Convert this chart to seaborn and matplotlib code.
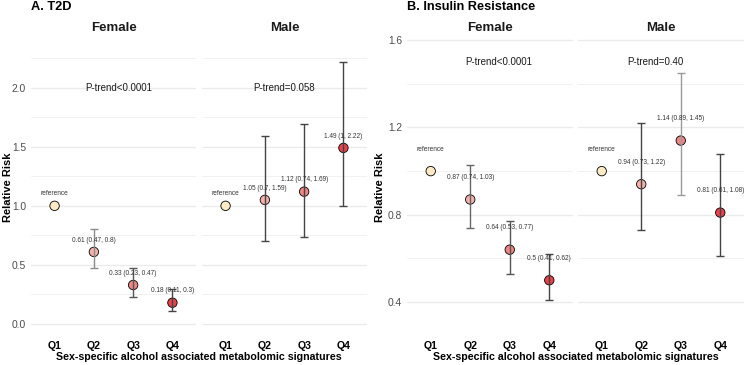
import numpy as np
import pandas as pd
import matplotlib
matplotlib.use("Agg")
import matplotlib.pyplot as plt
import seaborn as sns

# ---------------- data ----------------
quartiles = ["Q1", "Q2", "Q3", "Q4"]
sexes = ["Female", "Male"]

t2d_female_est = [1.00, 0.61, 0.33, 0.18]
t2d_female_lo = [np.nan, 0.47, 0.23, 0.11]
t2d_female_hi = [np.nan, 0.80, 0.47, 0.30]
t2d_male_est = [1.00, 1.05, 1.12, 1.49]
t2d_male_lo = [np.nan, 0.70, 0.74, 1.00]
t2d_male_hi = [np.nan, 1.59, 1.69, 2.22]

ir_female_est = [1.00, 0.87, 0.64, 0.50]
ir_female_lo = [np.nan, 0.74, 0.53, 0.41]
ir_female_hi = [np.nan, 1.03, 0.77, 0.62]
ir_male_est = [1.00, 0.94, 1.14, 0.81]
ir_male_lo = [np.nan, 0.73, 0.89, 0.61]
ir_male_hi = [np.nan, 1.22, 1.45, 1.08]

t2d_ptrend = ["P-trend<0.0001", "P-trend=0.058"]
ir_ptrend = ["P-trend<0.0001", "P-trend=0.40"]

panel_titles = ["A. T2D", "B. Insulin Resistance"]
y_label = "Relative Risk"
x_label = "Sex-specific alcohol associated metabolomic signatures"

# ---------------- style ----------------
sns.set_theme(style="white")
plt.rcParams["font.family"] = ["Liberation Sans", "DejaVu Sans"]

palette = {"Q1": "#FDEBC6", "Q2": "#F2B1AB", "Q3": "#EE8585", "Q4": "#E8424A"}
bar_colors = {
    ("A", "Female"): ["#555555", "#8A8A8A", "#555555", "#444444"],
    ("A", "Male"): ["#444444", "#444444", "#444444", "#444444"],
    ("B", "Female"): ["#555555", "#666666", "#555555", "#444444"],
    ("B", "Male"): ["#444444", "#444444", "#9A9A9A", "#444444"],
}


def fmt(v):
    return f"{v:g}"


def make_df(est, lo, hi):
    labels = []
    for i, (e, l, h) in enumerate(zip(est, lo, hi)):
        if i == 0:
            labels.append("reference")
        else:
            labels.append(f"{fmt(e)} ({fmt(l)}, {fmt(h)})")
    return pd.DataFrame({"quartile": quartiles, "pos": np.arange(len(quartiles)),
                         "est": est, "lo": lo, "hi": hi, "label": labels})


panels = [
    dict(key="A", title=panel_titles[0],
         data={"Female": make_df(t2d_female_est, t2d_female_lo, t2d_female_hi),
               "Male": make_df(t2d_male_est, t2d_male_lo, t2d_male_hi)},
         ptrend=t2d_ptrend, ptrend_y=2.0, ptrend_x=[1.64, 1.5],
         ylim=(-0.11, 2.42), major=[0.0, 0.5, 1.0, 1.5, 2.0],
         minor=[0.25, 0.75, 1.25, 1.75, 2.25],
         lefts=[31, 202], width=165, ylab_x=8, title_x=31, xlab_x=199),
    dict(key="B", title=panel_titles[1],
         data={"Female": make_df(ir_female_est, ir_female_lo, ir_female_hi),
               "Male": make_df(ir_male_est, ir_male_lo, ir_male_hi)},
         ptrend=ir_ptrend, ptrend_y=1.5, ptrend_x=[1.72, 1.36],
         ylim=(0.24, 1.61), major=[0.4, 0.8, 1.2, 1.6],
         minor=[0.6, 1.0, 1.4],
         lefts=[407, 578], width=166, ylab_x=380, title_x=407, xlab_x=576),
]

W, H = 745, 365
fig = plt.figure(figsize=(W / 100, H / 100), dpi=100)
fig.patch.set_facecolor("white")

top_px, bot_px = 38, 337
grid_col = "#EBEBEB"

for p in panels:
    for j, sex in enumerate(sexes):
        left = p["lefts"][j]
        ax = fig.add_axes([left / W, (H - bot_px) / H, p["width"] / W, (bot_px - top_px) / H])
        df = p["data"][sex]
        ax.set_xlim(-0.6, 3.6)
        ax.set_ylim(*p["ylim"])
        for y in p["minor"]:
            ax.axhline(y, color=grid_col, lw=0.5, zorder=0)
        for y in p["major"]:
            ax.axhline(y, color=grid_col, lw=1.0, zorder=0)

        sns.scatterplot(data=df, x="pos", y="est", hue="quartile", palette=palette,
                        s=46, edgecolor="black", linewidth=0.6, legend=False,
                        ax=ax, zorder=3)
        cols = bar_colors[(p["key"], sex)]
        for i, r in df.iterrows():
            if np.isnan(r["lo"]):
                continue
            ax.errorbar(r["pos"], r["est"],
                        yerr=[[r["est"] - r["lo"]], [r["hi"] - r["est"]]],
                        fmt="none", ecolor=cols[i], elinewidth=1.0, capsize=3.2,
                        capthick=1.0, zorder=4)
        for i, r in df.iterrows():
            ax.text(r["pos"], r["est"] + 0.1, r["label"], ha="center", va="center",
                    fontsize=4.7, color="#333333", zorder=5)
        ax.text(p["ptrend_x"][j], p["ptrend_y"], p["ptrend"][j], ha="center", va="center",
                fontsize=7.0, color="#1A1A1A", zorder=5)

        for s in ax.spines.values():
            s.set_visible(False)
        ax.set_xticks(range(len(quartiles)))
        ax.set_xticklabels(quartiles, fontweight="bold", fontsize=7.6, color="black")
        ax.tick_params(axis="x", length=0, pad=3)
        ax.tick_params(axis="y", length=0, pad=3.5)
        ax.set_yticks(p["major"])
        if j == 0:
            ax.set_yticklabels([f"{v:.1f}" for v in p["major"]], fontsize=7.4, color="#4D4D4D")
        else:
            ax.set_yticklabels([])
        ax.set_xlabel("")
        ax.set_ylabel("")
        ax.grid(False)
        ax.set_facecolor("none")
        fig.text((left + p["width"] / 2) / W, 1 - 28 / H, sex, ha="center", va="center",
                 fontsize=9.5, fontweight="bold", color="#1A1A1A")

    fig.text(p["title_x"] / W, 1 - 7 / H, p["title"], ha="left", va="center",
             fontsize=9.2, fontweight="bold", color="black")
    fig.text(p["ylab_x"] / W, 1 - ((top_px + bot_px) / 2) / H, y_label, rotation=90,
             ha="center", va="center", fontsize=8.0, fontweight="bold", color="black")
    fig.text(p["xlab_x"] / W, 1 - 357 / H, x_label, ha="center", va="center",
             fontsize=7.7, fontweight="bold", color="black")

fig.savefig("out.png", dpi=100, facecolor="white")
